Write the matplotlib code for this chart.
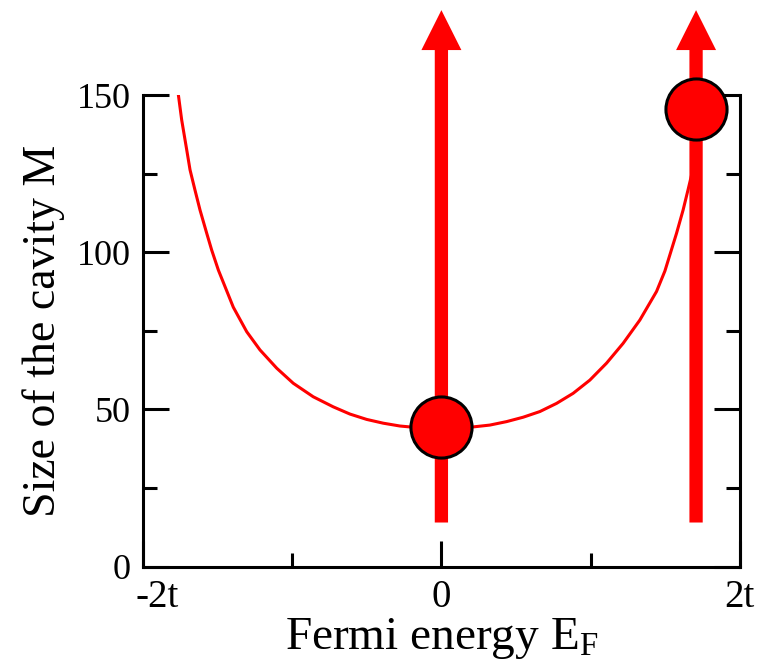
import matplotlib.pyplot as plt
from matplotlib.patches import FancyArrow
from matplotlib.ticker import MultipleLocator, FixedLocator
from matplotlib.transforms import ScaledTranslation

# curve (E_F in units of t, M)
energy = [-1.763, -1.741, -1.707, -1.685, -1.652, -1.618, -1.573, -1.540,
          -1.495, -1.395, -1.305, -1.216, -1.104, -0.993, -0.859, -0.725,
          -0.613, -0.501, -0.39, -0.278, -0.14, 0.0, 0.191, 0.325, 0.437,
          0.548, 0.66, 0.772, 0.883, 0.995, 1.107, 1.218, 1.33, 1.442,
          1.498, 1.576, 1.62, 1.654, 1.685, 1.707, 1.741, 1.763]
size_m = [150, 142.1, 132.5, 126.2, 119.8, 113.4, 106, 100.7,
          94.3, 82.5, 74.7, 68.9, 63.1, 58.3, 54.0, 50.8,
          48.5, 46.8, 45.6, 44.7, 44.1, 43.8, 44.3, 45.0, 46.1,
          47.5, 49.3, 51.9, 55.1, 59.3, 64.7, 71.0, 78.4, 87.5,
          94.0, 106, 113.4, 120, 126.2, 132.5, 142.1, 150]

# vertical arrows and the dots on them
arrow_x = [0.0, 1.707]
arrow_start = 14
arrow_end = 177
dot_x = [0.0, 1.707]
dot_y = [44.5, 145.6]

xtick_pos = [-2, 0, 2]
xtick_lab = ['-2t', '0', '2t']
ytick_pos = [0, 50, 100, 150]

plt.rcParams['font.family'] = ['Liberation Serif', 'DejaVu Serif']
plt.rcParams['mathtext.fontset'] = 'stix'

fig = plt.figure(figsize=(7.69, 6.71), dpi=100)
ax = fig.add_axes([0.186, 0.1557, 0.776, 0.7027])

ax.plot(energy, size_m, color='red', lw=2.2, solid_joinstyle='round',
        zorder=2)

for x in arrow_x:
    ax.add_patch(FancyArrow(x, arrow_start, 0, arrow_end - arrow_start,
                            width=0.089, head_width=0.268, head_length=12.7,
                            length_includes_head=True, color='red', lw=0,
                            clip_on=False, zorder=3))

ax.plot(dot_x, dot_y, 'o', ms=44, mfc='red', mec='black', mew=2.2,
        clip_on=False, zorder=4)

ax.set_xlim(-2, 2)
ax.set_ylim(0, 150)
ax.spines['top'].set_visible(False)
for s in ['left', 'right', 'bottom']:
    ax.spines[s].set_linewidth(2.2)

ax.xaxis.set_major_locator(FixedLocator(xtick_pos))
ax.set_xticklabels(xtick_lab)
ax.xaxis.set_minor_locator(MultipleLocator(1))
ax.yaxis.set_major_locator(FixedLocator(ytick_pos))
ax.yaxis.set_minor_locator(MultipleLocator(25))
ax.tick_params(axis='both', which='both', direction='in', width=2.2)
ax.tick_params(axis='y', which='both', right=True, labelsize=26, pad=9)
ax.tick_params(axis='x', labelsize=28, pad=9)
ax.tick_params(which='major', length=19)
ax.tick_params(which='minor', length=10)

# nudge "-2t" right so it clears the "0" of the y axis
lab = ax.get_xticklabels()[0]
lab.set_transform(lab.get_transform() + ScaledTranslation(10 / 72, 0, fig.dpi_scale_trans))

ax.set_xlabel('Fermi energy E$_\\mathregular{F}$', fontsize=34, labelpad=0)
ax.set_ylabel('Size of the cavity M', fontsize=33, labelpad=8)

fig.savefig('out.png', dpi=100)
